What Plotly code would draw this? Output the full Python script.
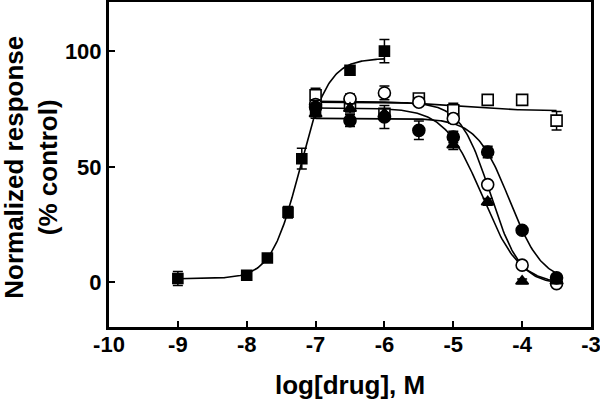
import numpy as np
import plotly.graph_objects as go

# ---- data ----
# filled squares (agonist)
sq_f_x = [-9, -8, -7.7, -7.4, -7.2, -7, -6.5, -6]
sq_f_y = [1.6, 3.0, 10.5, 30.3, 53.5, 74, 91.8, 100.1]
sq_f_e = [3, 1, 1, 2.5, 4.5, 2, 1, 5]

# open squares
sq_o_x = [-7, -6.5, -6, -5.5, -5, -4.5, -4, -3.5]
sq_o_y = [81, 77, 73, 79.6, 74.5, 79, 79, 70]
sq_o_e = [3, 2, 2, 1.5, 3, 1, 1, 4]

# open circles
ci_o_x = [-7, -6.5, -6, -5.5, -5, -4.5, -4, -3.5]
ci_o_y = [77, 79.5, 82, 78, 70.9, 42.3, 7.4, -0.6]
ci_o_e = [2, 2, 3, 1.5, 2, 1.5, 1, 1]

# filled circles
ci_f_x = [-7, -6.5, -6, -5.5, -5, -4.5, -4, -3.5]
ci_f_y = [75.8, 70, 71.6, 65.8, 62.9, 56.4, 22.5, 1.9]
ci_f_e = [3, 2.5, 5, 4, 2.5, 2.5, 1, 1]

# filled triangles
tr_f_x = [-7, -6.5, -6, -5, -4.5, -4, -3.5]
tr_f_y = [73, 75.3, 73, 59.5, 34.8, 0.4, 0.5]
tr_f_e = [2, 2, 2, 2, 1.5, 1, 1]

# Hill-equation fit parameters for each curve: (bottom, top, logEC50, hill, x_from, x_to)
fit_sq_f = (1.5, 97.0, -7.23, 2.1, -9.0, -6.0)
fit_sq_o = (74.3, 78.4, -5.0, -1.0, -7.0, -3.5)
fit_ci_o = (-1.0, 78.0, -4.465, -2.0, -7.0, -3.5)
fit_ci_f = (0.0, 71.0, -4.183, -1.82, -7.0, -3.5)
fit_tr_f = (-1.0, 75.5, -4.58, -1.6, -7.0, -3.5)

x_ticks = [-10, -9, -8, -7, -6, -5, -4, -3]
x_tick_text = ["-10", "-9", "-8", "-7", "-6", "-5", "-4", "-3"]
y_ticks = [0, 50, 100]
y_tick_text = ["0", "50", "100"]


def hill_curve(p):
    bottom, top, c, h, x0, x1 = p
    xs = np.linspace(x0, x1, 200)
    ys = bottom + (top - bottom) / (1 + 10 ** (h * (c - xs)))
    return xs, ys


fig = go.Figure()
for p in [fit_sq_o, fit_ci_o, fit_ci_f, fit_tr_f, fit_sq_f]:
    xs, ys = hill_curve(p)
    fig.add_trace(go.Scatter(x=xs, y=ys, mode="lines",
                             line=dict(color="black", width=1.6),
                             showlegend=False, hoverinfo="skip"))


def pts(x, y, e, symbol, fill, size):
    fig.add_trace(go.Scatter(
        x=x, y=y, mode="markers",
        marker=dict(symbol=symbol, color=fill, size=size,
                    line=dict(color="black", width=1.6)),
        error_y=dict(type="data", array=e, color="black",
                     thickness=1.5, width=5),
        showlegend=False))


pts(sq_o_x, sq_o_y, sq_o_e, "square", "white", 11)
pts(ci_o_x, ci_o_y, ci_o_e, "circle", "white", 12)
pts(tr_f_x, tr_f_y, tr_f_e, "triangle-up", "black", 11)
pts(ci_f_x, ci_f_y, ci_f_e, "circle", "black", 12)
pts(sq_f_x, sq_f_y, sq_f_e, "square", "black", 10)

FAM = "Liberation Sans, Arial, sans-serif"
font_ax = dict(family=FAM, size=22, color="black", weight="bold")
font_title = dict(family=FAM, size=26, color="black", weight="bold")

fig.update_layout(
    width=600, height=401,
    margin=dict(l=109, r=9, t=2, b=74, autoexpand=False),
    paper_bgcolor="white", plot_bgcolor="white",
    font=font_ax,
    xaxis=dict(range=[-10, -3], tickvals=x_ticks, ticktext=x_tick_text,
               ticks="inside", ticklabeloverflow="allow",
               ticklen=6, tickwidth=1.5, tickcolor="black",
               showline=True, linewidth=3, linecolor="black", mirror=True,
               showgrid=False, zeroline=False, tickfont=font_ax,
               ticklabelstandoff=-4, automargin=False),
    yaxis=dict(range=[-19.4, 121.4], tickvals=y_ticks, ticktext=y_tick_text,
               ticks="inside", ticklabeloverflow="allow",
               ticklen=6, tickwidth=1.5, tickcolor="black",
               showline=True, linewidth=3, linecolor="black", mirror=True,
               showgrid=False, zeroline=False, tickfont=font_ax,
               ticklabelstandoff=0, automargin=False),
    annotations=[
        dict(text="Normalized response<br>(% control)", xref="paper", yref="paper",
             x=-78 / 482, y=0.49, xanchor="center", yanchor="middle",
             textangle=-90, showarrow=False, font=font_title),
        dict(text="log[drug], M", xref="paper", yref="paper",
             x=0.5, y=-58 / 325.5, xanchor="center", yanchor="middle",
             showarrow=False, font=font_title),
    ],
)

fig.write_html("out.html",
               config={"displayModeBar": False},
               post_script="document.body.style.margin='0px';"
                           "document.body.style.overflow='hidden';")
